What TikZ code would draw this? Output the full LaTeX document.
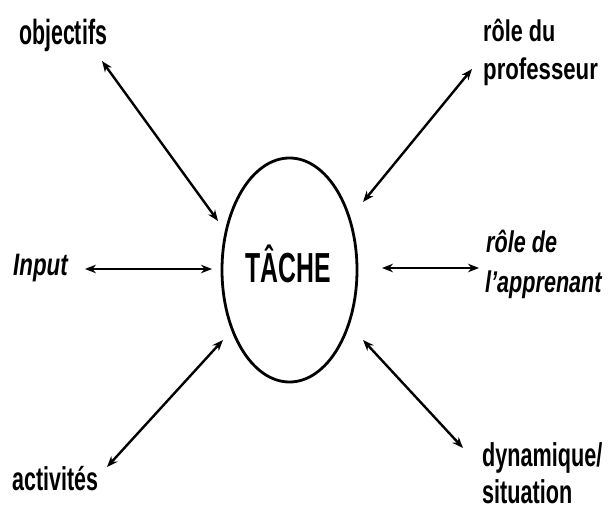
\documentclass[tikz,border=0pt]{standalone}
\usepackage{fontspec}
\usepackage{graphicx}
\setmainfont{Liberation Sans}
\usetikzlibrary{shapes.geometric,arrows.meta}
\newcommand{\lbl}[2]{\scalebox{#1}[1]{#2}}
\begin{document}
\begin{tikzpicture}[x=1pt,y=-1pt,
  lab/.style={inner sep=0pt,anchor=base west,font=\fontsize{#1}{#1}\selectfont\bfseries},
  conn/.style={line width=2.4pt,{Stealth[length=11pt,width=8.5pt]}-{Stealth[length=11pt,width=8.5pt]}}]
\useasboundingbox (0,0) rectangle (612,510);
% central ellipse
\node[ellipse,draw,line width=2.8pt,minimum width=135pt,minimum height=224pt,inner sep=0pt] (tache) at (289.5,270) {};
\node[inner sep=0pt,anchor=base west,font=\fontsize{42}{48}\selectfont\bfseries] (tachetext) at (245,283) {\scalebox{0.59}[1]{TÂCHE}};
% labels
\node[lab=35] (obj) at (19,45) {\lbl{0.61}{objectifs}};
\node[lab=30] (prof1) at (483,42) {\lbl{0.72}{rôle du}};
\node[lab=30] (prof2) at (483,80) {\lbl{0.74}{professeur}};
\node[lab=31] (inp) at (13,276) {\lbl{0.72}{\itshape Input}};
\node[lab=30] (app1) at (486,253) {\lbl{0.72}{\itshape rôle de}};
\node[lab=30] (app2) at (485,292) {\lbl{0.72}{\itshape l'apprenant}};
\node[lab=33] (act) at (12,490) {\lbl{0.65}{activités}};
\node[lab=33] (dyn1) at (482,466) {\lbl{0.655}{dynamique/}};
\node[lab=33] (dyn2) at (482,503) {\lbl{0.655}{situation}};
% connector end points
\coordinate (objA) at (102,61);  \coordinate (objB) at (218,221);
\coordinate (profA) at (472,69); \coordinate (profB) at (363,202);
\coordinate (inpA) at (85,269);  \coordinate (inpB) at (212,269);
\coordinate (appA) at (382,268); \coordinate (appB) at (479,268);
\coordinate (actA) at (107,467); \coordinate (actB) at (223,340);
\coordinate (dynA) at (363,340); \coordinate (dynB) at (463,448);
\draw[conn] (objA) -- (objB);
\draw[conn] (profA) -- (profB);
\draw[conn] (inpA) -- (inpB);
\draw[conn] (appA) -- (appB);
\draw[conn] (actA) -- (actB);
\draw[conn] (dynA) -- (dynB);
\end{tikzpicture}
\end{document}
